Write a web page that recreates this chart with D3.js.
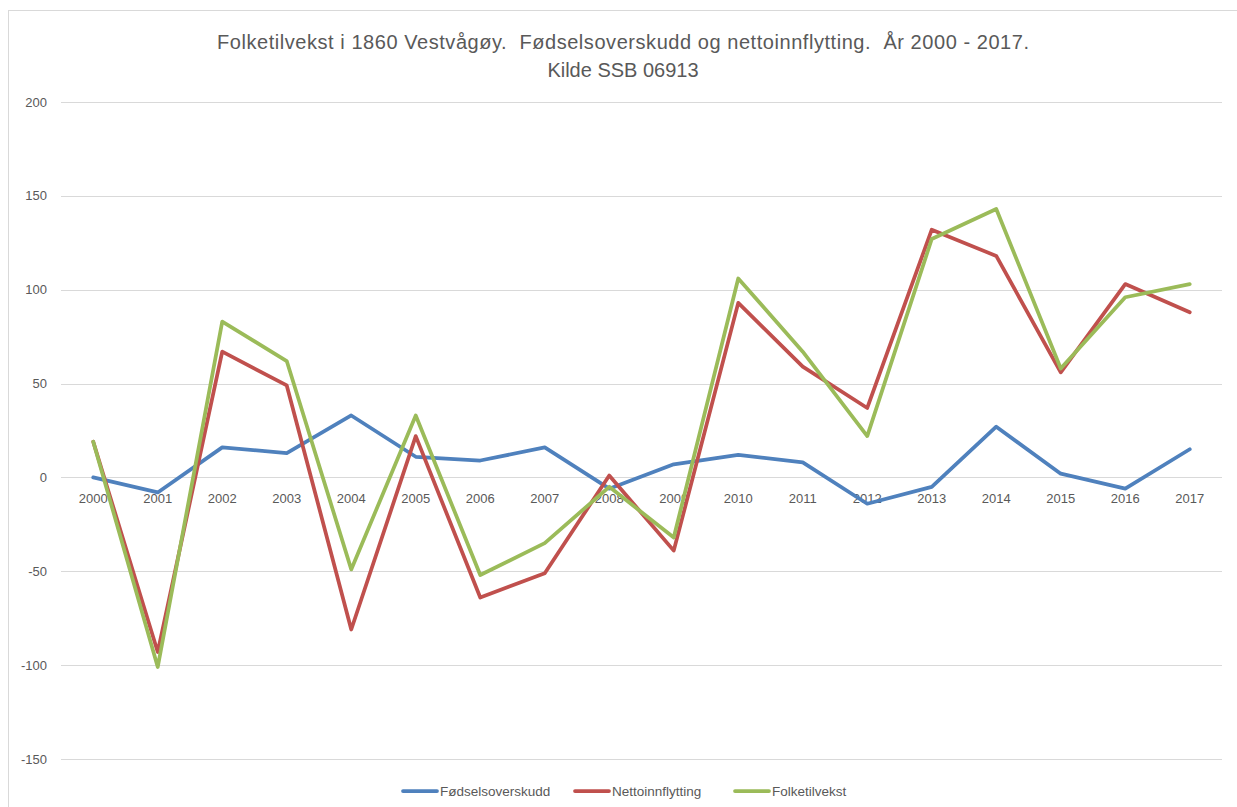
<!DOCTYPE html>
<html>
<head>
<meta charset="utf-8">
<script src="https://cdn.jsdelivr.net/npm/d3@7"></script>
<style>
  body { margin: 0; background: #fff; }
  svg { display: block; }
</style>
</head>
<body>
<svg id="chart" width="1237" height="807"></svg>
<script>
// Data
const years = ["2000","2001","2002","2003","2004","2005","2006","2007","2008",
  "2009","2010","2011","2012","2013","2014","2015","2016","2017"];
const fodselsoverskudd = [0, -8, 16, 13, 33, 11, 9, 16, -6, 7, 12, 8, -14, -5, 27, 2, -6, 15];
const nettoinnflytting = [19, -93, 67, 49, -81, 22, -64, -51, 1, -39, 93, 59, 37, 132, 118, 56, 103, 88];
const folketilvekst = [19, -101, 83, 62, -49, 33, -52, -35, -5, -32, 106, 67, 22, 127, 143, 58, 96, 103];
const yTicks = [-150, -100, -50, 0, 50, 100, 150, 200];

const series = [
  { name: "Fødselsoverskudd", values: fodselsoverskudd, color: "#4F81BD" },
  { name: "Nettoinnflytting", values: nettoinnflytting, color: "#C0504D" },
  { name: "Folketilvekst", values: folketilvekst, color: "#9BBB59" }
];

const svg = d3.select("#chart");
const font = "'Liberation Sans', Arial, sans-serif";

// chart border
svg.append("rect")
  .attr("x", 8.5).attr("y", 10.5)
  .attr("width", 1240).attr("height", 810)
  .attr("fill", "#fff")
  .attr("stroke", "#d9d9d9")
  .attr("stroke-width", 1);

const plot = { left: 61, right: 1222, top: 102, bottom: 759 };

const x = d3.scaleBand()
  .domain(years)
  .range([plot.left, plot.right]);

const y = d3.scaleLinear()
  .domain([-150, 200])
  .range([plot.bottom, plot.top]);

// gridlines
svg.append("g")
  .selectAll("line")
  .data(yTicks)
  .enter()
  .append("line")
    .attr("x1", plot.left)
    .attr("x2", plot.right)
    .attr("y1", d => Math.round(y(d)) + 0.5)
    .attr("y2", d => Math.round(y(d)) + 0.5)
    .attr("stroke", "#d9d9d9")
    .attr("stroke-width", 1);

// y tick labels
svg.append("g")
  .selectAll("text")
  .data(yTicks)
  .enter()
  .append("text")
    .attr("x", 47)
    .attr("y", d => y(d) + 4.5)
    .attr("text-anchor", "end")
    .attr("font-family", font)
    .attr("font-size", "13px")
    .attr("fill", "#595959")
    .text(d => d);

// x category labels (under the zero line)
svg.append("g")
  .selectAll("text")
  .data(years)
  .enter()
  .append("text")
    .attr("x", d => x(d) + x.bandwidth() / 2)
    .attr("y", y(0) + 26)
    .attr("text-anchor", "middle")
    .attr("font-family", font)
    .attr("font-size", "13px")
    .attr("fill", "#595959")
    .text(d => d);

// lines
const line = d3.line()
  .x((d, i) => x(years[i]) + x.bandwidth() / 2)
  .y(d => y(d));

svg.append("g")
  .selectAll("path")
  .data(series)
  .enter()
  .append("path")
    .attr("d", d => line(d.values))
    .attr("fill", "none")
    .attr("stroke", d => d.color)
    .attr("stroke-width", 3.75)
    .attr("stroke-linejoin", "round")
    .attr("stroke-linecap", "round");

// title
const title = svg.append("text")
  .attr("text-anchor", "middle")
  .attr("font-family", font)
  .attr("font-size", "20px")
  .attr("fill", "#595959")
  .style("white-space", "pre");
title.append("tspan")
  .attr("x", 623).attr("y", 49)
  .attr("textLength", 812)
  .attr("lengthAdjust", "spacing")
  .text("Folketilvekst i 1860 Vestvågøy.  Fødselsoverskudd og nettoinnflytting.  År 2000 - 2017.");
title.append("tspan")
  .attr("x", 623).attr("y", 77)
  .text("Kilde SSB 06913");

// legend
const legendX = [403, 575, 735];
const legend = svg.append("g")
  .selectAll("g")
  .data(series)
  .enter()
  .append("g")
    .attr("transform", (d, i) => `translate(${legendX[i]}, 791)`);

legend.append("line")
  .attr("x1", 0).attr("x2", 34)
  .attr("y1", 0).attr("y2", 0)
  .attr("stroke", d => d.color)
  .attr("stroke-width", 3.75)
  .attr("stroke-linecap", "round");

legend.append("text")
  .attr("x", 37)
  .attr("y", 4.5)
  .attr("font-family", font)
  .attr("font-size", "13.5px")
  .attr("fill", "#595959")
  .text(d => d.name);
</script>
</body>
</html>
